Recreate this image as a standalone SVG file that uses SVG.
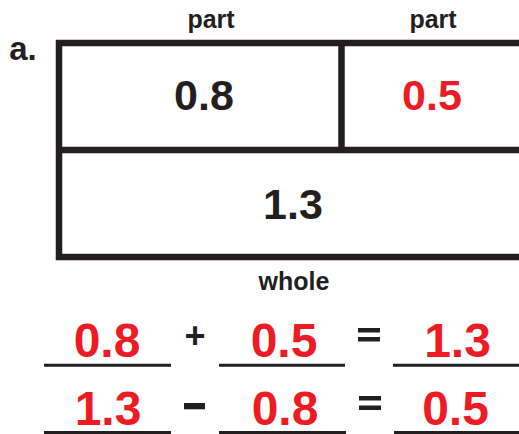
<svg xmlns="http://www.w3.org/2000/svg" width="519" height="434" viewBox="0 0 519 434">
<style>
.t{font-family:"Liberation Sans",Arial,sans-serif;font-weight:bold;text-anchor:middle}
.k{fill:#231f20}
.r{fill:#ed1c24}
.lbl{font-size:25px}
.box{font-size:43px}
.eq{font-size:48px}
.ln{stroke:#231f20;fill:none}
</style>
<rect width="519" height="434" fill="#fff"/>
<text class="t k" x="23" y="60" style="font-size:33px">a.</text>
<text class="t k lbl" x="211" y="28">part</text>
<text class="t k lbl" x="433" y="28">part</text>
<g id="connectors">
<rect class="ln" stroke-width="6.5" x="59" y="43" width="480" height="214"/>
<path class="ln" stroke-width="6.5" d="M59,150 H530 M341.5,43 V150"/>
</g>
<g id="cell-part1"><text class="t k box" x="204" y="110">0.8</text></g>
<g id="cell-part2"><text class="t r box" x="432" y="110">0.5</text></g>
<g id="cell-whole"><text class="t k box" x="293" y="219">1.3</text></g>
<text class="t k lbl" x="294" y="290">whole</text>
<g id="eq1">
<text class="t r eq" x="107" y="357">0.8</text>
<line class="ln" stroke-width="3" x1="44" y1="365.3" x2="171" y2="365.3"/>
<text class="t k" x="195" y="348" style="font-size:36px">+</text>
<text class="t r eq" x="284" y="357">0.5</text>
<line class="ln" stroke-width="3" x1="219" y1="365.3" x2="345" y2="365.3"/>
<rect class="k" x="358" y="328" width="22" height="4.5"/>
<rect class="k" x="358" y="337" width="22" height="4.5"/>
<text class="t r eq" x="457.5" y="357">1.3</text>
<line class="ln" stroke-width="3" x1="393" y1="365.3" x2="519" y2="365.3"/>
</g>
<g id="eq2">
<text class="t r eq" x="108" y="425">1.3</text>
<line class="ln" stroke-width="3" x1="44" y1="432.5" x2="171" y2="432.5"/>
<rect class="k" x="184" y="403" width="21" height="6.3"/>
<text class="t r eq" x="285" y="425">0.8</text>
<line class="ln" stroke-width="3" x1="219" y1="432.5" x2="346" y2="432.5"/>
<rect class="k" x="359" y="396" width="22" height="4.5"/>
<rect class="k" x="359" y="405.5" width="22" height="4.5"/>
<text class="t r eq" x="455.5" y="425">0.5</text>
<line class="ln" stroke-width="3" x1="394" y1="432.5" x2="519" y2="432.5"/>
</g>
</svg>
